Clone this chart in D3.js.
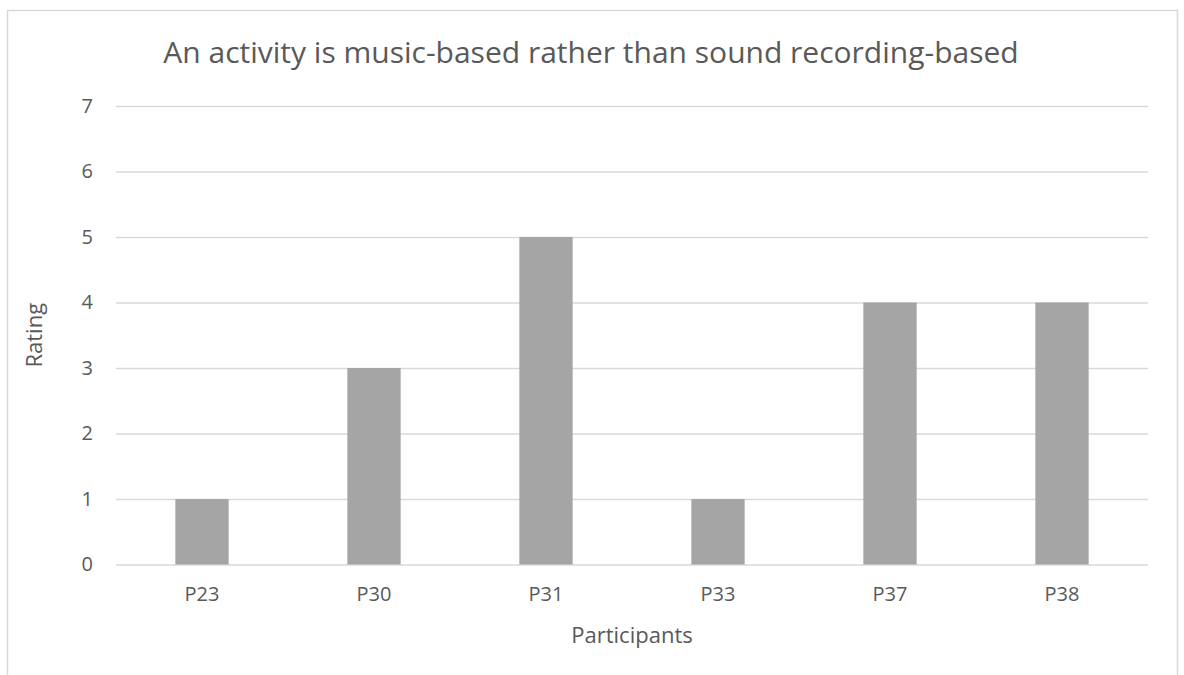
<!DOCTYPE html>
<html>
<head>
<meta charset="utf-8">
<script src="https://cdn.jsdelivr.net/npm/d3@7"></script>
<style>
  body { margin: 0; background: #fff; }
  text { font-family: "Open Sans", sans-serif; fill: #595959; }
</style>
</head>
<body>
<div id="chart"></div>
<script>
// chart data
const participants = ["P23", "P30", "P31", "P33", "P37", "P38"];
const ratings = [1, 3, 5, 1, 4, 4];
const yTicks = [0, 1, 2, 3, 4, 5, 6, 7];
const chartTitle = "An activity is music-based rather than sound recording-based";

const W = 1184, H = 675;
const margin = {top: 106, right: 36, bottom: 110.5, left: 116};
const width = W - margin.left - margin.right;
const height = H - margin.top - margin.bottom;

const svg = d3.select("#chart").append("svg")
    .attr("width", W)
    .attr("height", H);

// outer frame (runs off the bottom)
svg.append("rect")
    .attr("x", 7.5).attr("y", 10.5)
    .attr("width", 1170).attr("height", 700)
    .attr("fill", "none")
    .attr("stroke", "#d9d9d9")
    .attr("stroke-width", 1.5);

const g = svg.append("g")
    .attr("transform", `translate(${margin.left}, ${margin.top})`);

const x = d3.scaleBand()
    .domain(participants)
    .range([0, width])
    .paddingInner(0.69)
    .paddingOuter(0.345);

const y = d3.scaleLinear()
    .domain([0, 7])
    .range([height, 0]);

// gridlines + y labels
const yAxis = d3.axisLeft(y)
    .tickValues(yTicks)
    .tickFormat(d3.format("d"))
    .tickSize(-width)
    .tickPadding(23);

g.append("g")
    .attr("class", "y-axis")
    .call(yAxis)
    .call(a => a.select(".domain").remove())
    .call(a => a.selectAll("line").attr("stroke", "#d9d9d9").attr("stroke-width", 1.5))
    .call(a => a.selectAll("text").attr("font-size", 20).style("font-family", "'Open Sans', sans-serif").attr("fill", "#595959"));

// bars
g.selectAll(".bar")
    .data(participants.map((p, i) => ({p, v: ratings[i]})))
    .enter().append("rect")
    .attr("class", "bar")
    .attr("x", d => x(d.p))
    .attr("y", d => y(d.v))
    .attr("width", x.bandwidth())
    .attr("height", d => height - y(d.v))
    .attr("fill", "#a5a5a5");

// x labels
const xAxis = d3.axisBottom(x).tickSize(0).tickPadding(22);
g.append("g")
    .attr("class", "x-axis")
    .attr("transform", `translate(0, ${height})`)
    .call(xAxis)
    .call(a => a.select(".domain").remove())
    .call(a => a.selectAll("text").attr("font-size", 20).style("font-family", "'Open Sans', sans-serif").attr("fill", "#595959"));

// title
svg.append("text")
    .attr("x", 591).attr("y", 63)
    .attr("text-anchor", "middle")
    .attr("font-size", 30)
    .text(chartTitle);

// axis titles
svg.append("text")
    .attr("x", margin.left + width / 2).attr("y", 643)
    .attr("text-anchor", "middle")
    .attr("font-size", 22)
    .text("Participants");

svg.append("text")
    .attr("transform", `translate(42, ${margin.top + height / 2}) rotate(-90)`)
    .attr("text-anchor", "middle")
    .attr("font-size", 22)
    .text("Rating");
</script>
</body>
</html>
